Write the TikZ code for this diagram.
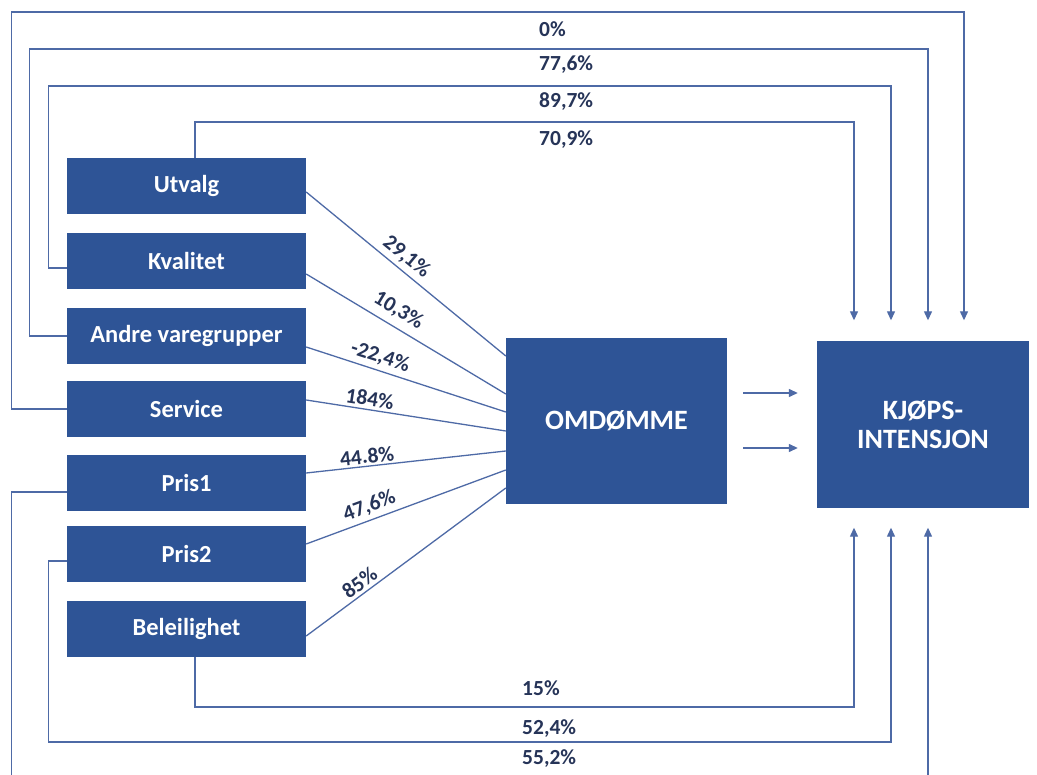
\documentclass[tikz,border=0pt]{standalone}
\usepackage{fontspec}
\setmainfont{Carlito}
\usetikzlibrary{arrows.meta}
\definecolor{boxblue}{RGB}{46,84,150}
\definecolor{linecol}{RGB}{78,106,166}
\definecolor{labcol}{RGB}{38,52,88}
\begin{document}
\begin{tikzpicture}[x=1pt,y=-1pt,
  inbox/.style={rectangle, fill=boxblue, minimum width=239pt, minimum height=56pt, inner sep=0pt,
    text=white, font=\fontsize{24.5}{26}\selectfont\bfseries},
  bigbox/.style={rectangle, fill=boxblue, inner sep=0pt, align=center,
    text=white, font=\fontsize{28}{29}\selectfont\bfseries},
  conn/.style={draw=linecol, line width=1.3pt},
  arr/.style={conn, -{Triangle[width=8pt,length=9pt]}},
  lab/.style={text=labcol, font=\fontsize{21.5}{23}\selectfont\bfseries, inner sep=1pt},
]
\useasboundingbox (0,0) rectangle (1037,775);
\clip (0,0) rectangle (1037,775);
\fill[white] (0,0) rectangle (1037,775);

% input boxes
\node[inbox] (u)  at (186.5,186) {Utvalg};
\node[inbox] (k)  at (186.5,261) {Kvalitet};
\node[inbox] (a)  at (186.5,336) {Andre varegrupper};
\node[inbox] (s)  at (186.5,409) {Service};
\node[inbox] (p1) at (186.5,483) {Pris1};
\node[inbox] (p2) at (186.5,554) {Pris2};
\node[inbox] (b)  at (186.5,629) {Beleilighet};

% main boxes
\node[bigbox, minimum width=221pt, minimum height=166pt] (om) at (616.5,421) {OMDØMME};
\node[bigbox, minimum width=212pt, minimum height=167pt] (kj) at (923,425) {KJØPS-\\INTENSJON};

% lines to OMDOMME
\draw[conn] ([yshift=-6pt]u.east)  -- node[lab, sloped, above=3pt, pos=0.46] {29,1\%} ([yshift=65pt]om.west);
\draw[conn] ([yshift=-13pt]k.east) -- node[lab, sloped, above=6pt, pos=0.42] {10,3\%} ([yshift=27pt]om.west);
\draw[conn] ([yshift=-11pt]a.east) -- node[lab, sloped, above=3pt, pos=0.35] {-22,4\%} ([yshift=9pt]om.west);
\draw[conn] ([yshift=9pt]s.east)   -- node[lab, sloped, above=2pt, pos=0.31] {184\%} ([yshift=-10pt]om.west);
\draw[conn] ([yshift=10pt]p1.east) -- node[lab, sloped, above=1pt, pos=0.31] {44.8\%} ([yshift=-30pt]om.west);
\draw[conn] ([yshift=10pt]p2.east) -- node[lab, sloped, above=3pt, pos=0.34] {47,6\%} ([yshift=-49pt]om.west);
\draw[conn] ([yshift=-7pt]b.east)  -- node[lab, sloped, above=2pt, pos=0.30] {85\%} ([yshift=-67pt]om.west);

% OMDOMME -> KJOPS
\draw[arr, shorten <=16pt, shorten >=19pt] ([yshift=28pt]om.east) -- ([yshift=28pt]om.east -| kj.west);
\draw[arr, shorten <=16pt, shorten >=19pt] ([yshift=-27pt]om.east) -- ([yshift=-27pt]om.east -| kj.west);

% top feedback corners
\coordinate (t0) at (964,12);
\coordinate (t1) at (928,49);
\coordinate (t2) at (891,86);
\coordinate (t3) at (854,122);
\draw[arr, shorten >=21pt] (s.west) -- ++(-55,0) |- (t0) -- (t0 |- kj.north);
\draw[arr, shorten >=21pt] (a.west) -- ++(-37,0) |- (t1) -- (t1 |- kj.north);
\draw[arr, shorten >=21pt] ([yshift=-7pt]k.west) -- ++(-18,0) |- (t2) -- (t2 |- kj.north);
\draw[arr, shorten >=21pt] ([xshift=8.5pt]u.north) |- (t3) -- (t3 |- kj.north);

% bottom feedback corners
\coordinate (b0) at (854,707);
\coordinate (b1) at (891,742);
\coordinate (b2) at (928,795);
\draw[arr, shorten >=19pt] ([xshift=8.5pt]b.south) |- (b0) -- (b0 |- kj.south);
\draw[arr, shorten >=19pt] ([yshift=-7pt]p2.west) -- ++(-18,0) |- (b1) -- (b1 |- kj.south);
\draw[arr, shorten >=19pt] ([yshift=-9pt]p1.west) -- ++(-55,0) |- (b2) -- (b2 |- kj.south);

% labels of feedback paths
\node[lab, anchor=west] (l0)  at (538,29)  {0\%};
\node[lab, anchor=west] (l1)  at (538,65)  {77,6\%};
\node[lab, anchor=west] (l2)  at (538,102) {89,7\%};
\node[lab, anchor=west] (l3)  at (538,140) {70,9\%};
\node[lab, anchor=west] (l4)  at (521,688) {15\%};
\node[lab, anchor=west] (l5)  at (521,729) {52,4\%};
\node[lab, anchor=west] (l6)  at (521,759) {55,2\%};
\end{tikzpicture}
\end{document}
